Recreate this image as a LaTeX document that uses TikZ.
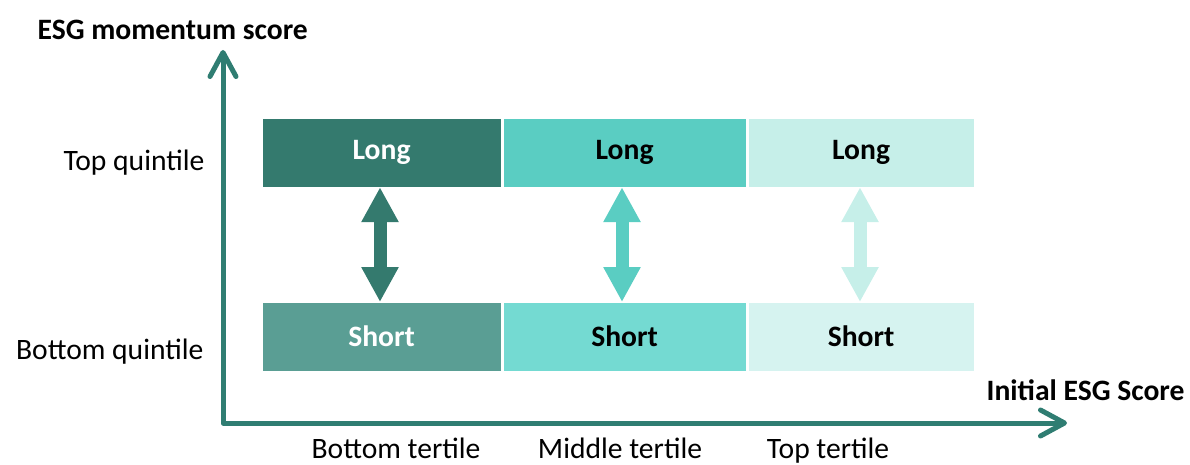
\documentclass[tikz,border=0pt]{standalone}
\usepackage{fontspec}
\setmainfont{Carlito}
\usetikzlibrary{arrows.meta}
\definecolor{axisteal}{HTML}{2F7D72}
\definecolor{darkA}{HTML}{347A6E}
\definecolor{darkB}{HTML}{5A9E94}
\definecolor{midA}{HTML}{5ACDC2}
\definecolor{midB}{HTML}{74DAD2}
\definecolor{lightA}{HTML}{C6EFE9}
\definecolor{lightB}{HTML}{D6F3F0}

\begin{document}
\begin{tikzpicture}[x=0.5pt,y=-0.5pt,semithick]
  \tikzstyle{cell}=[rectangle,inner sep=0pt,minimum height=34pt,anchor=north west,
                    font=\bfseries\fontsize{14.8}{17}\selectfont]
  \tikzstyle{lab}=[inner sep=0pt,font=\fontsize{14.8}{17}\selectfont]
  \tikzstyle{fat}=[line width=6.5pt,
                   {Triangle[length=17.5pt,width=17.5pt]}-{Triangle[length=17.5pt,width=17.5pt]}]
  \tikzstyle{axis}=[axisteal,line width=2.5pt,line cap=round,line join=round,
                    {Straight Barb[length=12pt,width=13pt,round]}-{Straight Barb[length=12pt,width=13pt,round]}]

  \useasboundingbox (0,0) rectangle (1190,465);

  % axes
  \coordinate (ytop) at (223,50);
  \coordinate (xend) at (1067,423);
  \draw[axis] (ytop) |- (xend);

  % cells
  \node[cell,fill=darkA,text=white,minimum width=119pt] (L1) at (262,118) {Long};
  \node[cell,fill=midA,minimum width=121pt]  (L2) at (503,118) {Long};
  \node[cell,fill=lightA,minimum width=112.5pt] (L3) at (748,118) {Long};
  \node[cell,fill=darkB,text=white,minimum width=119pt] (S1) at (262,302) {Short};
  \node[cell,fill=midB,minimum width=121pt]  (S2) at (503,302) {Short};
  \node[cell,fill=lightB,minimum width=112.5pt] (S3) at (748,302) {Short};

  % arrows between long and short
  \draw[fat,darkA]  (L1.south -| 380,0) -- (S1.north -| 380,0);
  \draw[fat,midA]   (L2.south -| 622,0) -- (S2.north -| 622,0);
  \draw[fat,lightA] (L3.south -| 860,0) -- (S3.north -| 860,0);

  % labels
  \node[lab,font=\bfseries\fontsize{14.8}{17}\selectfont,anchor=west] (ylab) at (37,30) {ESG momentum score};
  \node[lab,font=\bfseries\fontsize{14.8}{17}\selectfont,anchor=west] (xlab) at (986,390) {Initial ESG Score};
  \node[lab,anchor=east] (top)  at (205,163) {Top quintile};
  \node[lab,anchor=east] (bot)  at (204,352) {Bottom quintile};
  \node[lab,anchor=base] (t1) at (396,458) {Bottom tertile};
  \node[lab,anchor=base] (t2) at (620,458) {Middle tertile};
  \node[lab,anchor=base] (t3) at (828,458) {Top tertile};
\end{tikzpicture}
\end{document}
